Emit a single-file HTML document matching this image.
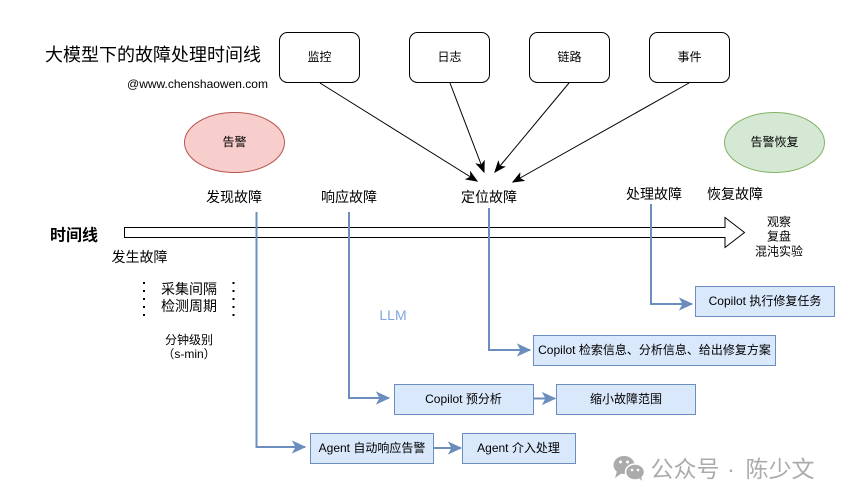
<!DOCTYPE html>
<html><head><meta charset="utf-8"><style>
html,body{margin:0;padding:0;background:#fff;width:842px;height:503px;overflow:hidden}
svg{display:block}
text{font-family:"Liberation Sans","Noto Sans CJK SC",sans-serif;fill:#000;text-anchor:middle;dominant-baseline:central}
.r{fill:#fff;stroke:#000;stroke-width:1}
.b{fill:#dae8fc;stroke:#6c8ebf;stroke-width:1}
.bl{fill:none;stroke:#6c8ebf;stroke-width:2}
.k{fill:none;stroke:#000;stroke-width:1}
.s12{font-size:12px}.s14{font-size:14px}
.wm{font-size:23px;fill:#ababab}
</style></head><body>
<svg width="842" height="503" viewBox="0 0 842 503" xmlns="http://www.w3.org/2000/svg">
<defs>
<marker id="ab" markerUnits="userSpaceOnUse" markerWidth="14" markerHeight="14" refX="12" refY="7" orient="auto" overflow="visible"><path d="M0 1.5L12 7L0 12.5L3 7Z" fill="#6c8ebf" stroke="#6c8ebf" stroke-width="1"/></marker>
<marker id="ak" markerUnits="userSpaceOnUse" markerWidth="12" markerHeight="12" refX="10" refY="6" orient="auto" overflow="visible"><path d="M0 2L10 6L0 10L2.5 6Z" fill="#000" stroke="#000" stroke-width="1"/></marker>
</defs>
<text x="153" y="55" style="font-size:18px">大模型下的故障处理时间线</text>
<text x="197.500" y="84" class="s12">@www.chenshaowen.com</text>

<rect class="r" x="279.5" y="32.5" width="80" height="50" rx="8"/>
<rect class="r" x="409.5" y="32.5" width="80" height="50" rx="8"/>
<rect class="r" x="529.5" y="32.5" width="80" height="50" rx="8"/>
<rect class="r" x="649.5" y="32.5" width="80" height="50" rx="8"/>
<text x="319.5" y="57" class="s12">监控</text>
<text x="449.5" y="57" class="s12">日志</text>
<text x="569.5" y="57" class="s12">链路</text>
<text x="689.5" y="57" class="s12">事件</text>

<line class="k" x1="320" y1="83" x2="477" y2="181" marker-end="url(#ak)"/>
<line class="k" x1="450" y1="83" x2="484" y2="172" marker-end="url(#ak)"/>
<line class="k" x1="569" y1="83" x2="495" y2="172" marker-end="url(#ak)"/>
<line class="k" x1="689" y1="83" x2="513" y2="182" marker-end="url(#ak)"/>

<ellipse cx="234.5" cy="142.5" rx="50" ry="30" fill="#f8cecc" stroke="#b85450"/>
<text x="234.5" y="142" class="s12">告警</text>
<ellipse cx="774.5" cy="142.5" rx="50" ry="30" fill="#d5e8d4" stroke="#82b366"/>
<text x="774.5" y="142" class="s12">告警恢复</text>

<text x="234" y="197" class="s14">发现故障</text>
<text x="349" y="197" class="s14">响应故障</text>
<text x="489" y="197" class="s14">定位故障</text>
<text x="654" y="194" class="s14">处理故障</text>
<text x="735" y="194" class="s14">恢复故障</text>

<path d="M124.5 227.5H725V217.5L744.5 232.5L725 247.5V237.5H124.5Z" fill="#fff" stroke="#000" stroke-width="1"/>
<text x="74" y="236" style="font-size:16px;font-weight:bold">时间线</text>
<text x="139.500" y="257" class="s14">发生故障</text>
<text x="779" y="222" class="s12">观察</text>
<text x="779" y="236.5" class="s12">复盘</text>
<text x="779" y="251.5" class="s12">混沌实验</text>

<path class="bl" d="M256.5 212V447H305" marker-end="url(#ab)"/>
<path class="bl" d="M349 212V398H389" marker-end="url(#ab)"/>
<path class="bl" d="M489 208V350H530" marker-end="url(#ab)"/>
<path class="bl" d="M651 204V304H692" marker-end="url(#ab)"/>
<path class="bl" d="M534 398.5H555" marker-end="url(#ab)"/>
<path class="bl" d="M434 448H461" marker-end="url(#ab)"/>

<rect class="b" x="695.5" y="286.5" width="139" height="30"/>
<text x="765" y="301" class="s12">Copilot 执行修复任务</text>
<rect class="b" x="533.5" y="335.5" width="242" height="30"/>
<text x="654.5" y="350" class="s12">Copilot 检索信息、分析信息、给出修复方案</text>
<rect class="b" x="394.5" y="384.5" width="139" height="30"/>
<text x="463.5" y="399" class="s12">Copilot 预分析</text>
<rect class="b" x="556.5" y="384.5" width="139" height="30"/>
<text x="626" y="399" class="s12">缩小故障范围</text>
<rect class="b" x="310.5" y="433.5" width="123" height="30"/>
<text x="372" y="448" class="s12">Agent 自动响应告警</text>
<rect class="b" x="462.5" y="433.5" width="113" height="30"/>
<text x="518.5" y="448" class="s12">Agent 介入处理</text>

<g fill="#000">
<rect x="143" y="282" width="2" height="2"/><rect x="143" y="290" width="2" height="2"/><rect x="143" y="298" width="2" height="2"/><rect x="143" y="306" width="2" height="2"/><rect x="143" y="314" width="2" height="2"/>
<rect x="232.500" y="282" width="2" height="2"/><rect x="232.500" y="290" width="2" height="2"/><rect x="232.500" y="298" width="2" height="2"/><rect x="232.500" y="306" width="2" height="2"/><rect x="232.500" y="314" width="2" height="2"/>
</g>
<text x="189" y="289" class="s14">采集间隔</text>
<text x="189" y="306" class="s14">检测周期</text>
<text x="189" y="340" class="s12">分钟级别</text>
<text x="189" y="354" class="s12">（s-min）</text>
<text x="393" y="315" class="s14" style="fill:#7ea6e0">LLM</text>

<g fill="#ababab">
<ellipse cx="624" cy="465" rx="10.500" ry="9"/>
<path d="M617 471L615 478L622 473Z"/>
<ellipse cx="635" cy="472" rx="9.500" ry="8" stroke="#fff" stroke-width="1.500"/>
<path d="M639 478L642 481L641 475Z"/>
</g>
<g fill="#fff"><circle cx="620.500" cy="462" r="1.500"/><circle cx="627.500" cy="462" r="1.500"/><circle cx="632" cy="470" r="1.300"/><circle cx="638" cy="470" r="1.300"/></g>
<text x="685" y="469" class="wm">公众号</text>
<text x="731" y="469" class="wm">·</text>
<text x="780" y="469" class="wm">陈少文</text>
</svg>
</body></html>
